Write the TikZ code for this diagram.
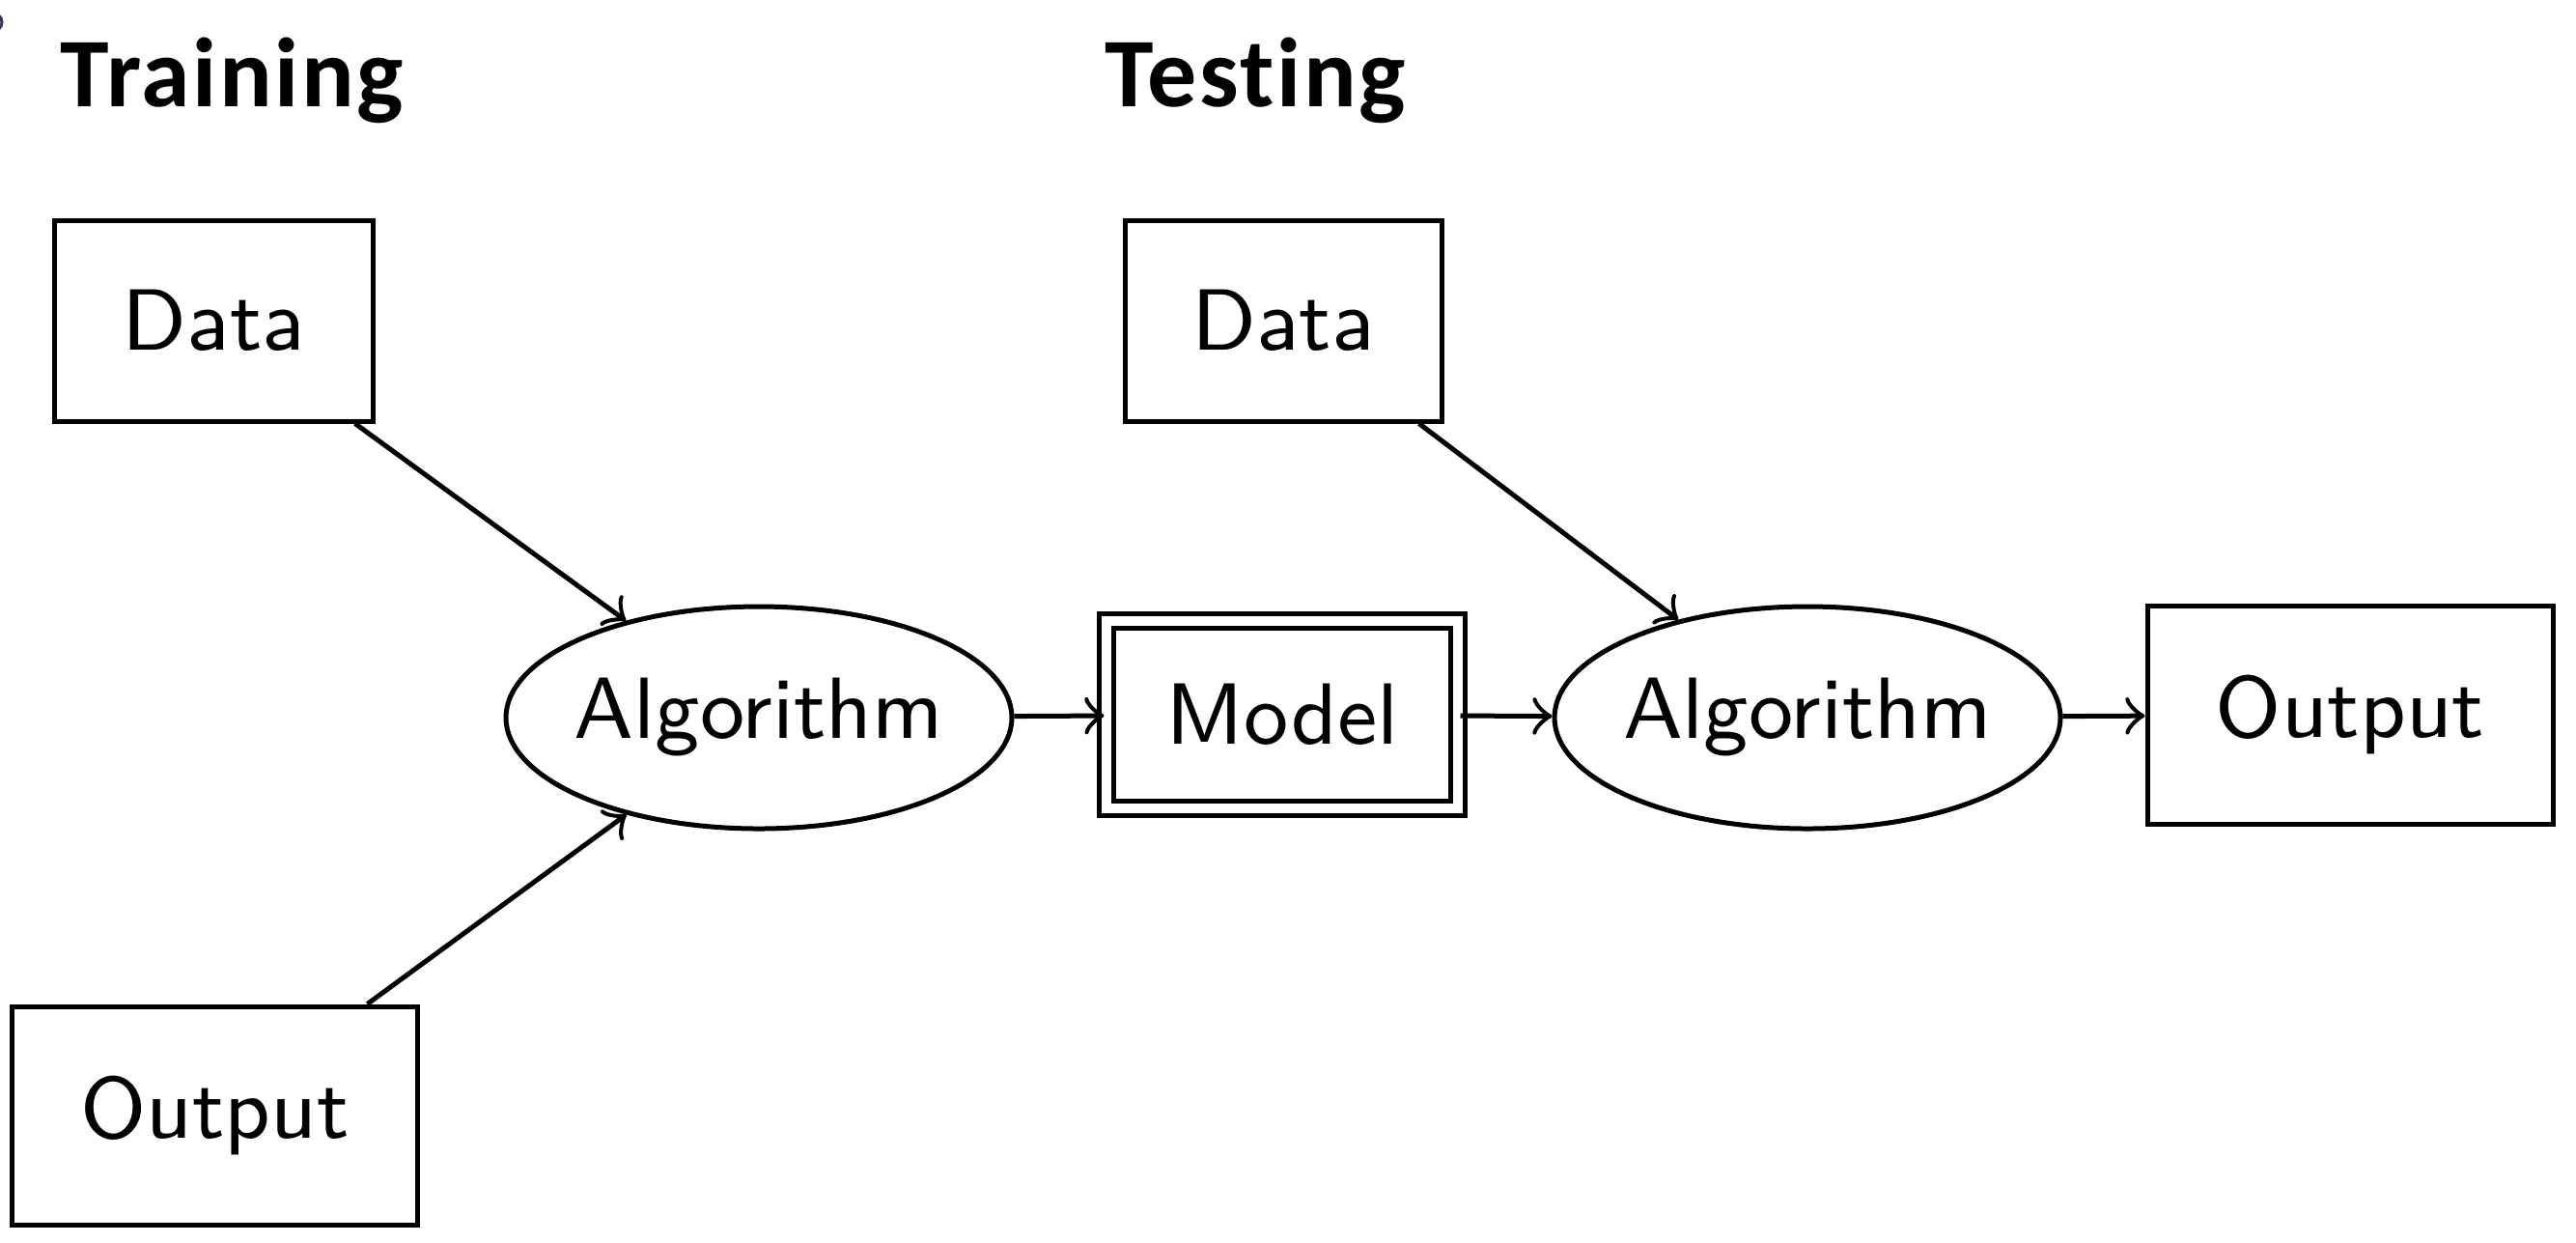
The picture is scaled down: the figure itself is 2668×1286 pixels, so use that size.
\documentclass[tikz,border=0pt]{standalone}
\usepackage{fontspec}
\newfontfamily\titlefont{Carlito}[RawFeature=-liga, LetterSpace=2.5]
\usetikzlibrary{shapes.geometric}
\begin{document}
\begin{tikzpicture}[x=0.1pt,y=-0.1pt,
  every node/.style={font=\fontsize{9pt}{11pt}\sffamily, inner sep=0pt, line width=0.5pt},
  box/.style={draw, rectangle},
  algo/.style={draw, ellipse, inner xsep=-0.7pt, minimum width=52.4pt, minimum height=23pt},
  dbox/.style={draw, rectangle, double, double distance=1.0pt, minimum width=36.4pt, minimum height=19.4pt},
  title/.style={font=\titlefont\fontsize{10.2pt}{12pt}\selectfont\bfseries, anchor=base west},
  conn/.style={->, line width=0.5pt}]
\useasboundingbox (0,0) rectangle (2668,1286);
\draw[gray!70!blue!60!black, line width=0.3pt] (-9,23) ellipse (11 and 10);
\node[title] (ttrain) at (60,110) {Training};
\node[title] (ttest) at (1142,110) {Testing};
\node[box, minimum width=33.1pt, minimum height=20.8pt] (data1) at (221.5,332) {Data};
\node[algo] (alg1) at (786,743) {Algorithm};
\node[box, minimum width=42pt, minimum height=22.6pt] (out1) at (222.5,1155) {Output};
\node[dbox] (model) at (1328,740) {Model};
\node[box, minimum width=32.8pt, minimum height=20.8pt] (data2) at (1329,332) {Data};
\node[algo] (alg2) at (1872,743) {Algorithm};
\node[box, minimum width=42pt, minimum height=22.6pt] (out2) at (2434,740) {Output};
\draw[conn] (data1) -- (alg1);
\draw[conn] (out1) -- (alg1);
\draw[conn] (alg1) -- (model);
\draw[conn] (model) -- (alg2);
\draw[conn] (data2) -- (alg2);
\draw[conn] (alg2) -- (out2);
\end{tikzpicture}
\end{document}
